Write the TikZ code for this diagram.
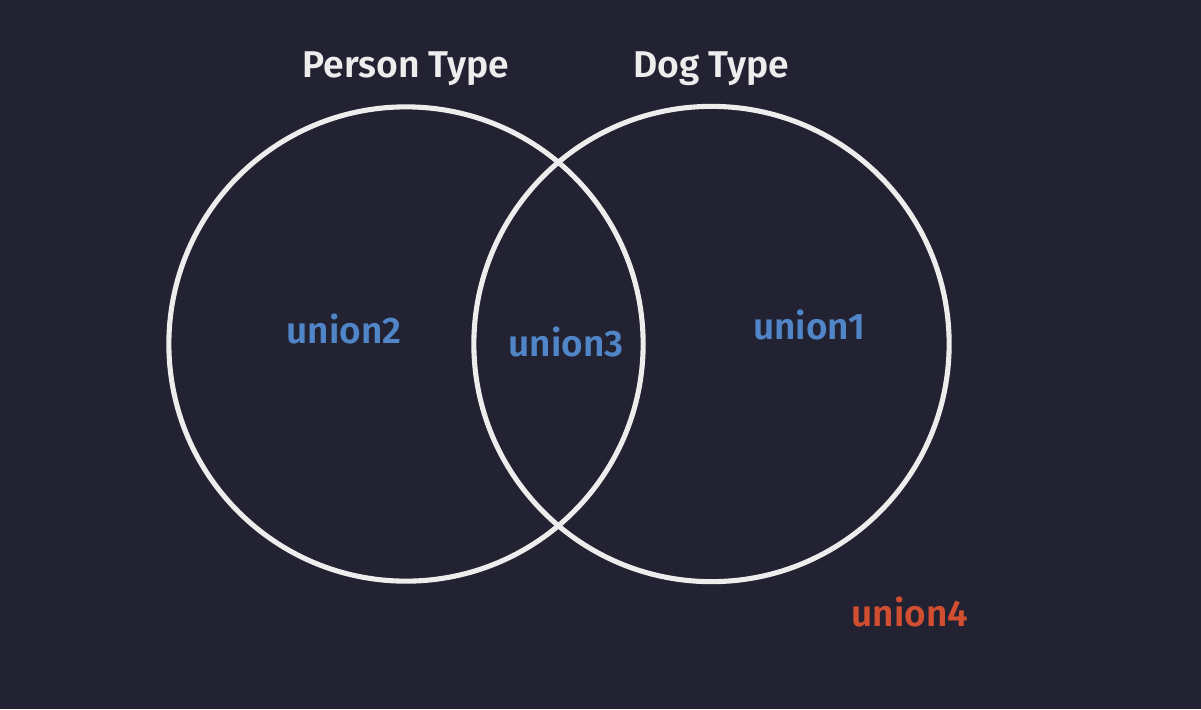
\documentclass[tikz,border=0pt]{standalone}
\usepackage{fontspec}
\setmainfont{Fira Sans}[UprightFont=* SemiBold]
\definecolor{bg}{HTML}{222232}
\definecolor{ring}{HTML}{EDEDED}
\definecolor{lblue}{HTML}{5086C8}
\definecolor{lred}{HTML}{D24E30}
\tikzset{
  ring/.style={draw=ring, line width=1.45pt},
  title/.style={text=ring, font=\fontsize{10.6pt}{12pt}\selectfont, inner sep=0pt, anchor=base},
  lab/.style={text=lblue, font=\fontsize{10.5pt}{12pt}\selectfont, inner sep=0pt, anchor=base},
}
\begin{document}
\begin{tikzpicture}[x=0.01cm,y=-0.01cm]
\fill[bg] (0,0) rectangle (1201,709);
\useasboundingbox (0,0) rectangle (1201,709);
\node[ring, circle, minimum size=4.74cm, inner sep=0pt] (person) at (406,344) {};
\node[ring, circle, minimum size=4.75cm, inner sep=0pt] (dog) at (711.5,344) {};
\node[title] (pt) at (406,77) {Person Type};
\node[title] (dt) at (711,77) {Dog Type};
\node[lab] (u2) at (344,343) {union2};
\node[lab] (u3) at (566,356) {union3};
\node[lab] (u1) at (809,339) {union1};
\node[lab, text=lred] (u4) at (910,626) {union4};
\end{tikzpicture}
\end{document}
